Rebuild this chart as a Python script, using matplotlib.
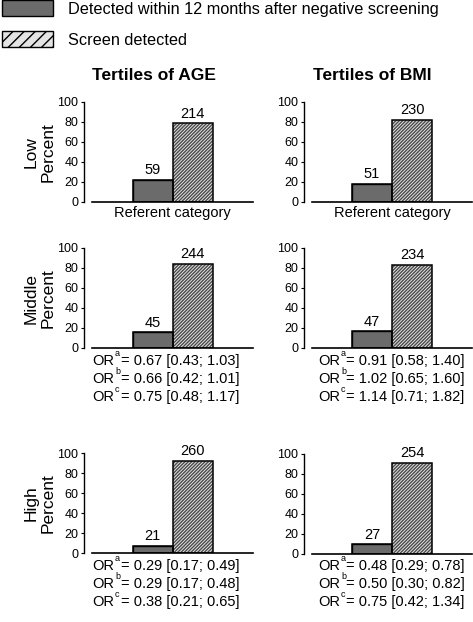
import matplotlib
matplotlib.use("Agg")
import matplotlib.pyplot as plt
from matplotlib.patches import Patch

plt.rcParams['font.family'] = ['Liberation Sans', 'DejaVu Sans']
plt.rcParams['hatch.linewidth'] = 1.0

W, H = 473, 622

legend_labels = ["Detected within 12 months after negative screening", "Screen detected"]
column_titles = ["Tertiles of AGE", "Tertiles of BMI"]
row_names = ["Low", "Middle", "High"]

# counts shown above the bars (interval cancer, screen detected)
age_counts = [[59, 214], [45, 244], [21, 260]]
bmi_counts = [[51, 230], [47, 234], [27, 254]]

# bar heights in percent
age_pct = [[21.6, 78.4], [15.6, 84.4], [7.5, 92.5]]
bmi_pct = [[18.1, 81.9], [16.7, 83.3], [9.6, 90.4]]

age_or = [None,
          ["0.67 [0.43; 1.03]", "0.66 [0.42; 1.01]", "0.75 [0.48; 1.17]"],
          ["0.29 [0.17; 0.49]", "0.29 [0.17; 0.48]", "0.38 [0.21; 0.65]"]]
bmi_or = [None,
          ["0.91 [0.58; 1.40]", "1.02 [0.65; 1.60]", "1.14 [0.71; 1.82]"],
          ["0.48 [0.29; 0.78]", "0.50 [0.30; 0.82]", "0.75 [0.42; 1.34]"]]
or_marks = ["a", "b", "c"]

DARK = '#6b6b6b'
LIGHT = '#e4e4e4'


def fx(x):
    return x / W


def fy(y):
    return 1 - y / H


fig = plt.figure(figsize=(W / 100, H / 100), dpi=100)
renderer = fig.canvas.get_renderer()

# axes geometry in pixels: (left, right), (y of 0, y of 100)
cols = [(92, 253), (312, 472)]
rows = [[(201.7, 101.7), (201.7, 101.7)],
        [(348, 248), (348, 248)],
        [(553.3, 453), (554, 453.5)]]
or_baselines = [None, [365, 383, 400.7], [570, 588, 605.7]]
or_x = [92, 318]


def or_line(x, y, mark, txt):
    # "OR", raised superscript letter, then the value text
    t = fig.text(fx(x), fy(y), "OR", fontsize=10.5, va='baseline', ha='left')
    w = t.get_window_extent(renderer).width
    fig.text(fx(x + w + 1), fy(y - 9), mark, fontsize=6.5,
             va='baseline', ha='left')
    fig.text(fx(x + w + 6.5), fy(y), "= " + txt, fontsize=10.5,
             va='baseline', ha='left')


for c, (counts, pcts, ors) in enumerate([(age_counts, age_pct, age_or),
                                          (bmi_counts, bmi_pct, bmi_or)]):
    x0, x1 = cols[c]
    for r in range(3):
        y0, y100 = rows[r][c]
        ax = fig.add_axes([fx(x0), fy(y0), (x1 - x0) / W, (y0 - y100) / H])
        ax.set_xlim(-(x1 - x0) / 80, (x1 - x0) / 80)
        ax.set_ylim(0, 100)
        ax.bar([-0.5], [pcts[r][0]], width=1, color=DARK, edgecolor='black', linewidth=1)
        ax.bar([0.5], [pcts[r][1]], width=1, color=LIGHT, edgecolor='#4a4a4a',
               hatch='//////////', linewidth=0)
        outline = ax.bar([-0.5, 0.5], pcts[r], width=1, fill=False,
                         edgecolor='black', linewidth=1.1)
        ax.bar_label(outline, labels=[str(v) for v in counts[r]], padding=2,
                     fontsize=10.5)
        for s in ['top', 'right']:
            ax.spines[s].set_visible(False)
        ax.spines['left'].set_position(('outward', 5.8))
        ax.spines['left'].set_bounds(0, 100)
        ax.spines['left'].set_linewidth(1.0)
        ax.spines['bottom'].set_linewidth(1.2)
        ax.set_yticks([0, 20, 40, 60, 80, 100])
        ax.tick_params(axis='y', direction='out', length=2.5, width=0.8,
                       labelsize=9, pad=1.5)
        if r == 0:
            ax.set_xticks([0])
            ax.set_xticklabels(["Referent category"], fontsize=10.5)
            ax.tick_params(axis='x', length=0, pad=3)
        else:
            ax.set_xticks([])
            for i, txt in enumerate(ors[r]):
                or_line(or_x[c], or_baselines[r][i], or_marks[i], txt)

for r, name in enumerate(row_names):
    y0, y100 = rows[r][0]
    fig.text(fx(40), fy((y0 + y100) / 2), name + "\nPercent", rotation=90,
             fontsize=12.5, ha='center', va='center', multialignment='center',
             linespacing=1.15)

fig.text(fx(154), fy(76), column_titles[0], fontsize=12.5, fontweight='bold',
         ha='center', va='center')
fig.text(fx(372), fy(76), column_titles[1], fontsize=12.5, fontweight='bold',
         ha='center', va='center')

handles = [Patch(facecolor=DARK, edgecolor='black', linewidth=1),
           Patch(facecolor=LIGHT, edgecolor='black', hatch='///', linewidth=1)]
fig.legend(handles, legend_labels, loc='upper left', bbox_to_anchor=(fx(2), fy(0.5)),
           frameon=False, fontsize=11.7, borderpad=0, borderaxespad=0,
           handlelength=3.15, handleheight=1.1, handletextpad=0.9,
           labelspacing=0.9)

fig.savefig("out.png", dpi=100)
